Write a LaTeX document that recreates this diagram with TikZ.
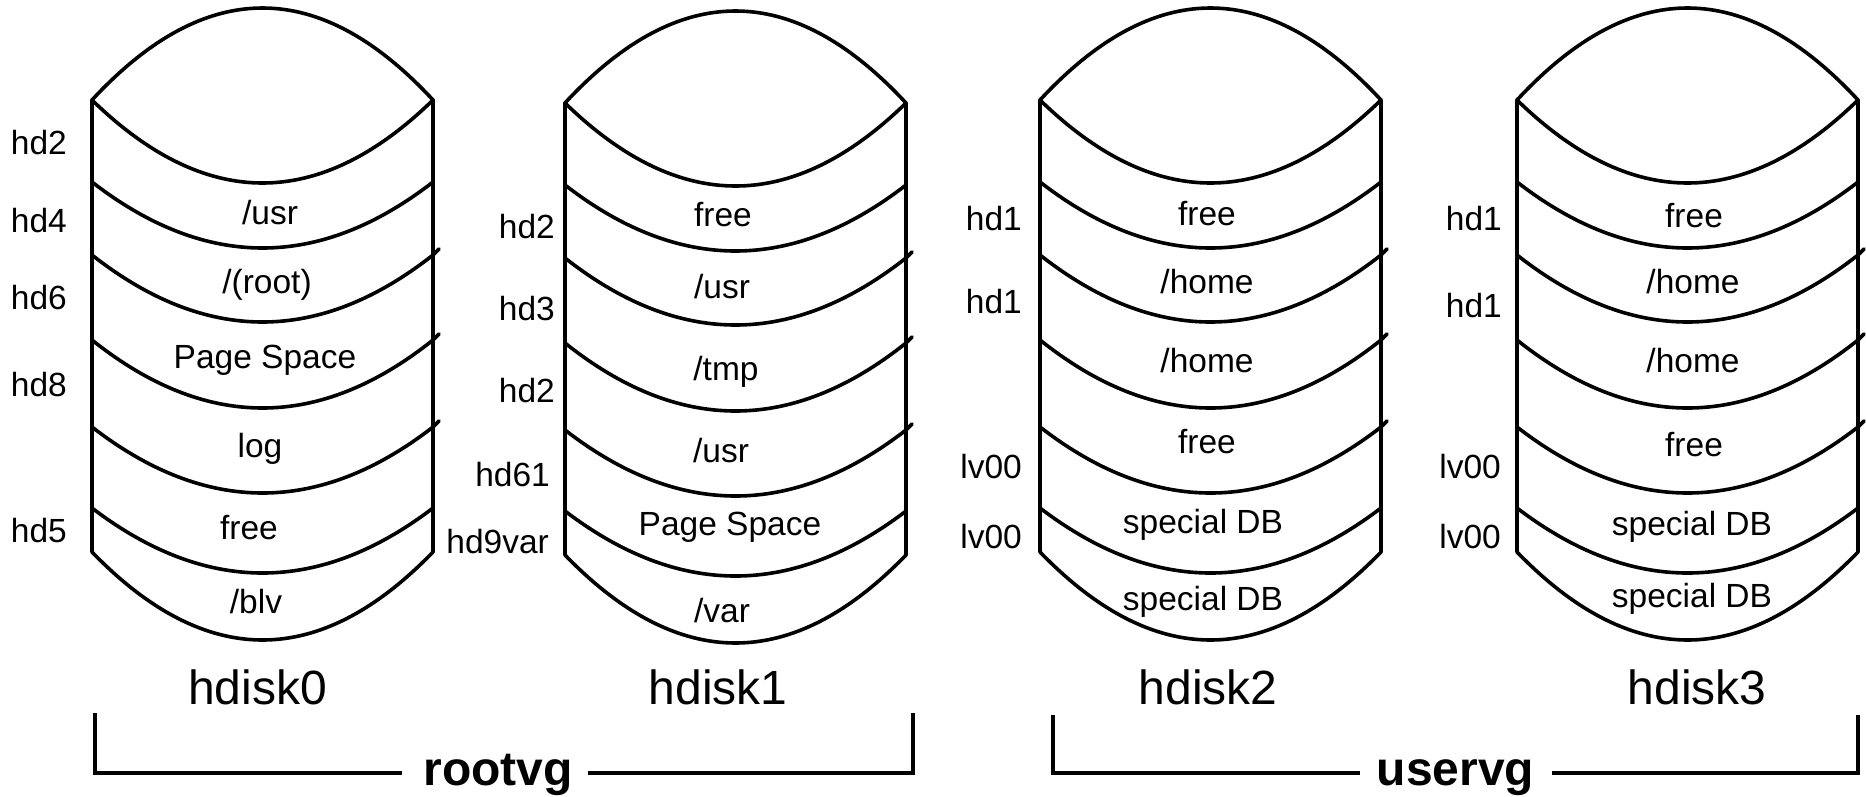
\documentclass[tikz,border=0pt]{standalone}
\usepackage{fontspec}
\setmainfont{Liberation Sans}
\tikzset{
  diskline/.style={line width=3.6pt, line join=round, line cap=round},
  part/.style={font=\fontsize{33.5}{40}\selectfont, inner sep=0pt, anchor=base},
  pvlabel/.style={font=\fontsize{33.5}{40}\selectfont, inner sep=0pt, anchor=base east},
  disklabel/.style={font=\fontsize{48}{56}\selectfont, inner sep=0pt, anchor=base},
  vglabel/.style={font=\fontsize{48}{56}\selectfont\bfseries, inner sep=0pt, anchor=base},
  bracket/.style={line width=3.6pt, line join=miter},
}
% Parabolic arc across the disk: #1 = height at the sides, #2 = sag at the centre
\newcommand\sagarc[2]{(0,#1) .. controls (113.67,{#1+4*(#2)/3}) and (227.33,{#1+4*(#2)/3}) .. (341,#1)}
% One disk cylinder in local coordinates: top-left side corner at (0,0), width 341
\newcommand\diskbody{%
  \draw[diskline] \sagarc{0}{-92};
  \draw[diskline] (0,0) -- (0,452) .. controls (113.67,569.33) and (227.33,569.33) .. (341,452) -- (341,0);
  \draw[diskline] \sagarc{0}{83};
  \draw[diskline] \sagarc{82}{66};
  \draw[diskline] \sagarc{155}{67} -- ++(6,-6);
  \draw[diskline] \sagarc{240}{68} -- ++(6,-6);
  \draw[diskline] \sagarc{327}{66} -- ++(6,-6);
  \draw[diskline] \sagarc{408}{65};
}
\begin{document}
\begin{tikzpicture}[x=1pt,y=-1pt]
\useasboundingbox (0,0) rectangle (1866,796);

% disks
\begin{scope}[shift={(92,100)}]\diskbody\end{scope}
\begin{scope}[shift={(565,103)}]\diskbody\end{scope}
\begin{scope}[shift={(1040,100)}]\diskbody\end{scope}
\begin{scope}[shift={(1517,100)}]\diskbody\end{scope}

% hdisk0 partitions
\node[part] (d0p1) at (270,224) {/usr};
\node[part] (d0p2) at (267,293) {/(root)};
\node[part] (d0p3) at (265,368) {Page Space};
\node[part] (d0p4) at (260,457) {log};
\node[part] (d0p5) at (249,539) {free};
\node[part] (d0p6) at (256,613) {/blv};
\node[pvlabel] (d0l1) at (67,154) {hd2};
\node[pvlabel] (d0l2) at (67,232) {hd4};
\node[pvlabel] (d0l3) at (67,309) {hd6};
\node[pvlabel] (d0l4) at (67,396) {hd8};
\node[pvlabel] (d0l5) at (67,542) {hd5};

% hdisk1 partitions
\node[part] (d1p1) at (723,226) {free};
\node[part] (d1p2) at (722,298) {/usr};
\node[part] (d1p3) at (726,380) {/tmp};
\node[part] (d1p4) at (721,462) {/usr};
\node[part] (d1p5) at (730,535) {Page Space};
\node[part] (d1p6) at (722,622) {/var};
\node[pvlabel] (d1l1) at (555,238) {hd2};
\node[pvlabel] (d1l2) at (555,320) {hd3};
\node[pvlabel] (d1l3) at (555,402) {hd2};
\node[pvlabel] (d1l4) at (550,486) {hd61};
\node[pvlabel] (d1l5) at (549,553) {hd9var};

% hdisk2 partitions
\node[part] (d2p1) at (1207,225) {free};
\node[part] (d2p2) at (1207,293) {/home};
\node[part] (d2p3) at (1207,372) {/home};
\node[part] (d2p4) at (1207,453) {free};
\node[part] (d2p5) at (1203,533) {special DB};
\node[part] (d2p6) at (1203,610) {special DB};
\node[pvlabel] (d2l1) at (1022,230) {hd1};
\node[pvlabel] (d2l2) at (1022,313) {hd1};
\node[pvlabel] (d2l3) at (1022,478) {lv00};
\node[pvlabel] (d2l4) at (1022,548) {lv00};

% hdisk3 partitions
\node[part] (d3p1) at (1694,227) {free};
\node[part] (d3p2) at (1693,293) {/home};
\node[part] (d3p3) at (1693,372) {/home};
\node[part] (d3p4) at (1694,456) {free};
\node[part] (d3p5) at (1692,535) {special DB};
\node[part] (d3p6) at (1692,607) {special DB};
\node[pvlabel] (d3l1) at (1502,230) {hd1};
\node[pvlabel] (d3l2) at (1502,317) {hd1};
\node[pvlabel] (d3l3) at (1501,478) {lv00};
\node[pvlabel] (d3l4) at (1501,548) {lv00};

% disk names
\node[disklabel] (hd0) at (257.5,704) {hdisk0};
\node[disklabel] (hd1) at (718,704) {hdisk1};
\node[disklabel] (hd2) at (1208,704) {hdisk2};
\node[disklabel] (hd3) at (1697,704) {hdisk3};

% volume groups
\node[vglabel] (rootvg) at (498,785) {rootvg};
\node[vglabel] (uservg) at (1455.5,785) {uservg};
\coordinate (r1) at (95,713);
\coordinate (r2) at (402,773);
\coordinate (r3) at (588,773);
\coordinate (r4) at (913,713);
\coordinate (u1) at (1053,715);
\coordinate (u2) at (1360,773);
\coordinate (u3) at (1552,773);
\coordinate (u4) at (1858,715);
\draw[bracket] (r1) |- (r2);
\draw[bracket] (r4) |- (r3);
\draw[bracket] (u1) |- (u2);
\draw[bracket] (u4) |- (u3);
\end{tikzpicture}
\end{document}
